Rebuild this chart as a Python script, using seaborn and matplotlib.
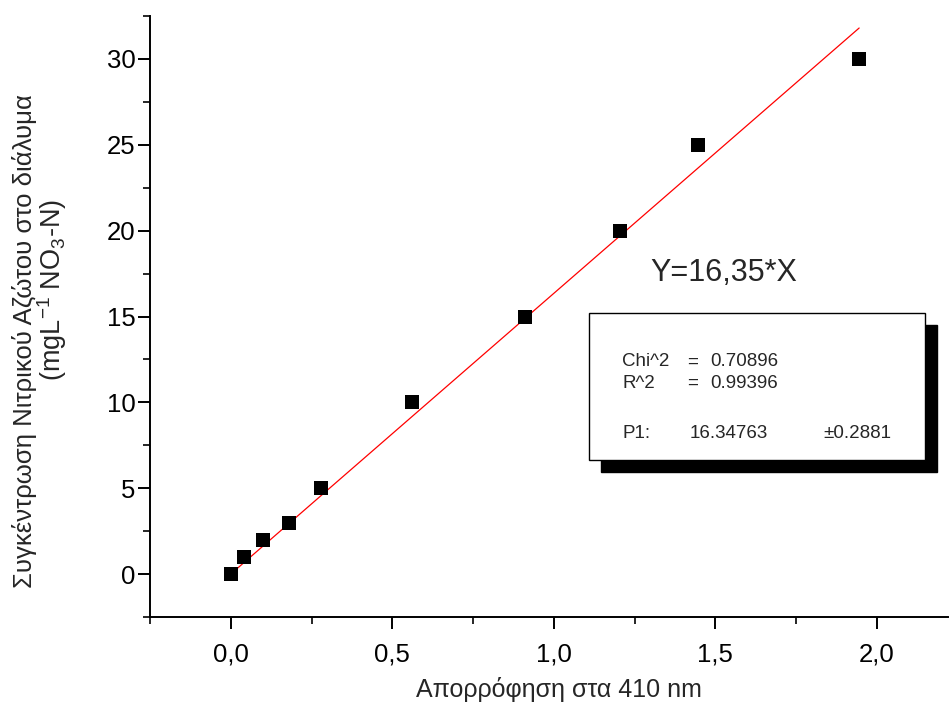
import seaborn as sns
import matplotlib.pyplot as plt
import matplotlib.patches as patches
from matplotlib.ticker import MultipleLocator, FuncFormatter
import numpy as np
import pandas as pd

# calibration points
absorbance = [0.0, 0.04, 0.10, 0.18, 0.28, 0.56, 0.91, 1.205, 1.445, 1.945]
concentration = [0, 1, 2, 3, 5, 10, 15, 20, 25, 30]
slope = 16.35

fit_labels = ["Chi^2", "R^2"]
fit_values = ["0.70896", "0.99396"]
param_row = ["P1:", "16.34763", "\u00b10.2881"]

sns.set_style("ticks")
plt.rcParams['font.family'] = ['Liberation Sans', 'DejaVu Sans']
plt.rcParams['mathtext.fontset'] = 'custom'
plt.rcParams['mathtext.rm'] = 'Liberation Sans'
plt.rcParams['mathtext.it'] = 'Liberation Sans'

df = pd.DataFrame({"x": absorbance, "y": concentration})
fit_x = np.array([0.0, max(absorbance)])
fit_df = pd.DataFrame({"x": fit_x, "y": slope * fit_x})

W, H = 949, 704
fig = plt.figure(figsize=(W / 100, H / 100), dpi=100)
ax = fig.add_axes([150 / W, 1 - 617 / H, 798 / W, 601 / H])

sns.lineplot(data=fit_df, x="x", y="y", color="red", linewidth=0.9, ax=ax)
sns.scatterplot(data=df, x="x", y="y", marker="s", s=95, color="black",
                edgecolor="black", linewidth=0, ax=ax, zorder=3)

ax.set_xlim(-0.25, 2.22)
ax.set_ylim(-2.5, 32.5)
ax.xaxis.set_major_locator(MultipleLocator(0.5))
ax.xaxis.set_minor_locator(MultipleLocator(0.25))
ax.yaxis.set_major_locator(MultipleLocator(5))
ax.yaxis.set_minor_locator(MultipleLocator(2.5))
ax.xaxis.set_major_formatter(FuncFormatter(lambda v, p: f"{v:.1f}".replace(".", ",")))

ax.tick_params(which="major", length=8.5, width=1.4, labelsize=18.5, colors="black")
ax.tick_params(which="minor", length=5, width=1.4)
ax.tick_params(axis="x", which="major", pad=10)
ax.tick_params(axis="y", which="major", pad=2)
for s in ["left", "bottom"]:
    ax.spines[s].set_linewidth(1.4)
    ax.spines[s].set_color("black")
sns.despine(ax=ax)

ax.set_xlabel("")
ax.set_ylabel("")
fig.text(559 / W, 1 - 690 / H, "Απορρόφηση στα 410 nm", fontsize=18,
         ha="center", va="center")
fig.text(25 / W, 1 - 341 / H, "Συγκέντρωση Νιτρικού Αζώτου στο διάλυμα",
         fontsize=18.5, rotation=90, ha="center", va="center")
fig.text(52 / W, 1 - 290 / H, "(mgL$^{-1}$ NO$_3$-N)",
         fontsize=19.5, rotation=90, ha="center", va="center")

fig.text(650 / W, 1 - 273 / H, "Y=16,35*X", fontsize=22, va="center", ha="left")

# fit result box with shadow
bx, by, bw, bh = 589, 460, 336, 147
shadow = patches.Rectangle(((bx + 12) / W, 1 - (by + 12) / H), bw / W, bh / H,
                           transform=fig.transFigure, facecolor="black", edgecolor="black")
box = patches.Rectangle((bx / W, 1 - by / H), bw / W, bh / H,
                        transform=fig.transFigure, facecolor="white", edgecolor="black",
                        linewidth=1.0)
fig.patches.extend([shadow, box])

fs = 13.5
for i, (lab, val) in enumerate(zip(fit_labels, fit_values)):
    yy = 1 - (362 + 21 * i) / H
    fig.text(622 / W, yy, lab, fontsize=fs, va="center")
    fig.text(687 / W, yy, "=", fontsize=fs, va="center")
    fig.text(710 / W, yy, val, fontsize=fs, va="center")
for xx, txt in zip([622, 690, 823], param_row):
    fig.text(xx / W, 1 - 434 / H, txt, fontsize=fs, va="center")

fig.savefig("out.png", dpi=100)
